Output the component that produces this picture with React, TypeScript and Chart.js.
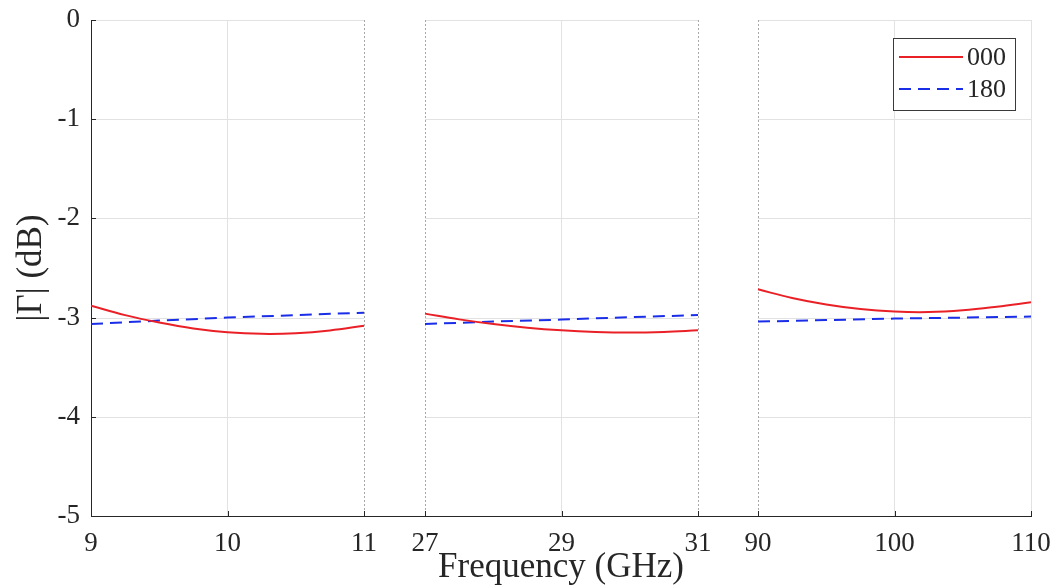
import { useEffect, useRef } from "react";
import { Chart, registerables } from "chart.js";

Chart.register(...registerables);

// ---- data ----
const panelRanges: [number, number][] = [
  [9, 11],
  [27, 31],
  [90, 110],
];
const tickFreqs = [9, 10, 11, 27, 29, 31, 90, 100, 110];
const tickLabels = ["9", "10", "11", "27", "29", "31", "90", "100", "110"];
const yTicks = [-5, -4, -3, -2, -1, 0];
const boundaryFreqs = [11, 27, 31, 90];

const freq000P1 = [9, 9.25, 9.5, 9.75, 10, 10.25, 10.5, 10.75, 11];
const gamma000P1 = [-2.88, -2.975, -3.05, -3.11, -3.148, -3.164, -3.158, -3.13, -3.082];
const freq000P2 = [27, 27.5, 28, 28.5, 29, 29.5, 30, 30.5, 31];
const gamma000P2 = [-2.96, -3.018, -3.065, -3.102, -3.128, -3.144, -3.15, -3.144, -3.128];
const freq000P3 = [90, 92.5, 95, 97.5, 100, 102.5, 105, 107.5, 110];
const gamma000P3 = [-2.715, -2.802, -2.868, -2.914, -2.939, -2.944, -2.926, -2.89, -2.845];

const freq180P1 = [9, 9.5, 10, 10.5, 11];
const gamma180P1 = [-3.065, -3.03, -3.0, -2.975, -2.95];
const freq180P2 = [27, 28, 29, 30, 31];
const gamma180P2 = [-3.065, -3.04, -3.02, -2.995, -2.975];
const freq180P3 = [90, 95, 100, 105, 110];
const gamma180P3 = [-3.04, -3.025, -3.01, -3.0, -2.99];

// ---- broken-axis geometry (position units) ----
const PANEL_OFFSETS = [0, 334, 667];
const PANEL_WIDTH = 273;
const X_MAX = 940;

function pos(f: number): number {
  for (let i = 0; i < panelRanges.length; i++) {
    const [lo, hi] = panelRanges[i];
    if (f >= lo && f <= hi) return PANEL_OFFSETS[i] + ((f - lo) / (hi - lo)) * PANEL_WIDTH;
  }
  return NaN;
}

function buildSeries(freqs: number[][], vals: number[][]) {
  const out: { x: number; y: number | null }[] = [];
  freqs.forEach((fs, p) => {
    if (p > 0) out.push({ x: PANEL_OFFSETS[p] - 30, y: null });
    fs.forEach((f, i) => out.push({ x: pos(f), y: vals[p][i] }));
  });
  return out;
}

const TEXT = "#262626";
const GRID = "#e2e2e2";
const FONT = "'Liberation Serif', 'Times New Roman', serif";

const zeroPadding = (s: any) => {
  s.paddingTop = 0;
  s.paddingBottom = 0;
  s.paddingLeft = 0;
  s.paddingRight = 0;
};

const decorPlugin = {
  id: "decor",
  beforeDatasetsDraw(chart: any) {
    const { ctx, chartArea, scales } = chart;
    const x = scales.x;
    const y = scales.y;
    ctx.save();
    ctx.lineWidth = 1;
    // horizontal gridlines, per panel only
    ctx.strokeStyle = GRID;
    panelRanges.forEach(([lo, hi]) => {
      const l = x.getPixelForValue(pos(lo));
      const r = x.getPixelForValue(pos(hi));
      yTicks.forEach((v) => {
        if (v === -5) return;
        const py = Math.round(y.getPixelForValue(v)) + 0.5;
        ctx.beginPath();
        ctx.moveTo(l, py);
        ctx.lineTo(r, py);
        ctx.stroke();
      });
    });
    // dotted panel boundaries
    ctx.strokeStyle = "#a8a8a8";
    ctx.setLineDash([2, 2]);
    boundaryFreqs.forEach((f) => {
      const px = Math.round(x.getPixelForValue(pos(f))) + 0.5;
      ctx.beginPath();
      ctx.moveTo(px, chartArea.top);
      ctx.lineTo(px, chartArea.bottom);
      ctx.stroke();
    });
    ctx.setLineDash([]);
    // inward tick marks
    ctx.strokeStyle = TEXT;
    tickFreqs.forEach((f) => {
      const px = Math.round(x.getPixelForValue(pos(f))) + 0.5;
      ctx.beginPath();
      ctx.moveTo(px, chartArea.bottom);
      ctx.lineTo(px, chartArea.bottom - 5);
      ctx.stroke();
    });
    yTicks.forEach((v) => {
      const py = Math.round(y.getPixelForValue(v)) + 0.5;
      ctx.beginPath();
      ctx.moveTo(chartArea.left, py);
      ctx.lineTo(chartArea.left + 5, py);
      ctx.stroke();
    });
    ctx.restore();
  },
  afterDraw(chart: any) {
    const { ctx, chartArea } = chart;
    const w = 122;
    const h = 72;
    const left = chartArea.right - 16 - w;
    const top = chartArea.top + 18;
    ctx.save();
    ctx.fillStyle = "#ffffff";
    ctx.fillRect(left, top, w, h);
    ctx.strokeStyle = "#3a3a3a";
    ctx.lineWidth = 1;
    ctx.strokeRect(Math.round(left) + 0.5, Math.round(top) + 0.5, w, h);
    chart.data.datasets.forEach((ds: any, i: number) => {
      const cy = top + 19 + i * 32;
      ctx.strokeStyle = ds.borderColor;
      ctx.lineWidth = ds.borderWidth;
      ctx.setLineDash(ds.borderDash || []);
      ctx.beginPath();
      ctx.moveTo(left + 6, cy);
      ctx.lineTo(left + 70, cy);
      ctx.stroke();
      ctx.setLineDash([]);
      ctx.fillStyle = TEXT;
      ctx.font = `26px ${FONT}`;
      ctx.textBaseline = "middle";
      ctx.textAlign = "left";
      ctx.fillText(ds.label, left + 74, cy + 1);
    });
    ctx.restore();
  },
};

export default function App() {
  const ref = useRef<HTMLCanvasElement | null>(null);

  useEffect(() => {
    if (!ref.current) return;
    const chart = new Chart(ref.current, {
      type: "line",
      data: {
        datasets: [
          {
            label: "000",
            data: buildSeries([freq000P1, freq000P2, freq000P3], [gamma000P1, gamma000P2, gamma000P3]),
            borderColor: "#ea2027",
            borderWidth: 2,
            tension: 0.4,
            spanGaps: false,
            pointRadius: 0,
          },
          {
            label: "180",
            data: buildSeries([freq180P1, freq180P2, freq180P3], [gamma180P1, gamma180P2, gamma180P3]),
            borderColor: "#1a2ee8",
            borderWidth: 2,
            borderDash: [12, 7],
            spanGaps: false,
            pointRadius: 0,
          },
        ],
      },
      options: {
        animation: false,
        responsive: false,
        layout: { padding: { top: 20, right: 27, bottom: 0, left: 0 } },
        plugins: { legend: { display: false }, tooltip: { enabled: false } },
        elements: { point: { radius: 0 } },
        scales: {
          x: {
            type: "linear",
            min: 0,
            max: X_MAX,
            afterBuildTicks: (s: any) => {
              s.ticks = tickFreqs.map((f) => ({ value: pos(f) }));
            },
            afterFit: (s: any) => {
              s.height = 70;
              zeroPadding(s);
            },
            ticks: {
              autoSkip: false,
              maxRotation: 0,
              padding: 12,
              color: TEXT,
              font: { family: FONT, size: 27 },
              callback: (_v: any, i: number) => tickLabels[i],
            },
            grid: {
              drawTicks: false,
              lineWidth: 1,
              color: (c: any) => ([1, 4, 7, 8].includes(c.index) ? GRID : "rgba(0,0,0,0)"),
            },
            border: { color: TEXT, width: 1 },
            title: {
              display: true,
              text: "Frequency (GHz)",
              color: TEXT,
              font: { family: FONT, size: 35, lineHeight: 1 },
              padding: { top: 0, bottom: 1 },
            },
          },
          y: {
            type: "linear",
            min: -5,
            max: 0,
            afterBuildTicks: (s: any) => {
              s.ticks = yTicks.map((v) => ({ value: v }));
            },
            afterFit: (s: any) => {
              s.width = 91;
              zeroPadding(s);
            },
            ticks: {
              padding: 11,
              color: TEXT,
              font: { family: FONT, size: 27 },
              callback: (v: any) => String(v),
            },
            grid: { drawOnChartArea: false, drawTicks: false },
            border: { color: TEXT, width: 1 },
            title: {
              display: true,
              text: "|Γ| (dB)",
              color: TEXT,
              font: { family: FONT, size: 35, lineHeight: 1 },
              padding: { top: 14, bottom: 0 },
            },
          },
        },
      },
      plugins: [decorPlugin],
    });
    return () => chart.destroy();
  }, []);

  return (
    <div style={{ position: "fixed", left: 0, top: 0, width: 1058, height: 586, background: "#ffffff" }}>
      <canvas ref={ref} width={1058} height={586} style={{ display: "block" }} />
    </div>
  );
}
